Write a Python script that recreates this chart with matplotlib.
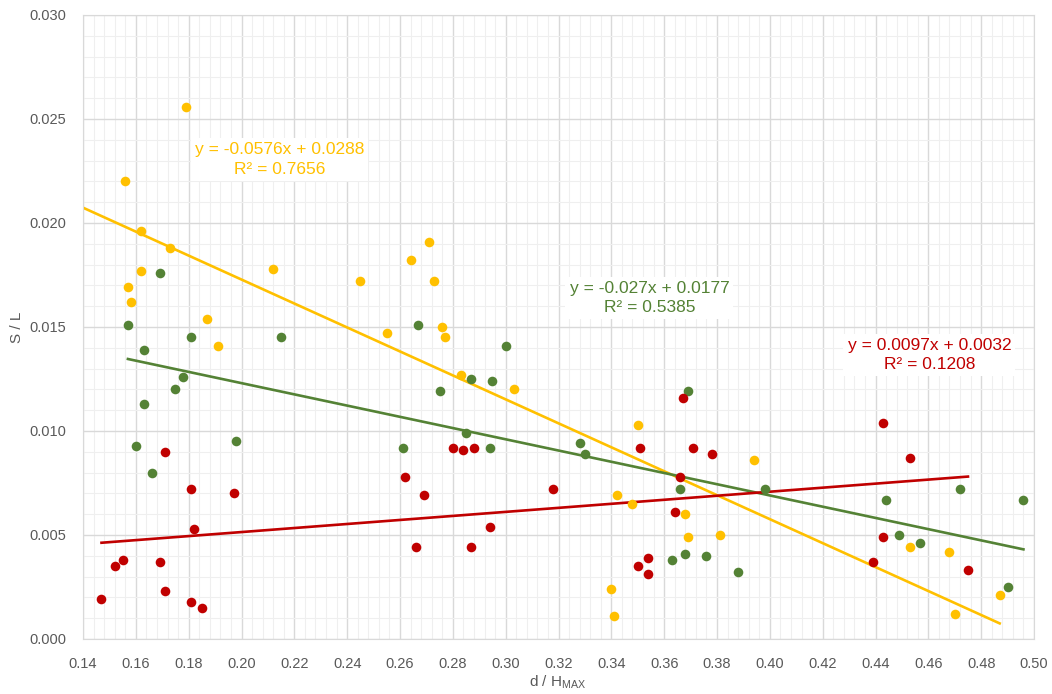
import numpy as np
import matplotlib.pyplot as plt
from matplotlib.ticker import MultipleLocator, FormatStrFormatter

plt.rcParams['font.family'] = ['Liberation Sans', 'DejaVu Sans']
plt.rcParams['mathtext.fontset'] = 'custom'
plt.rcParams['mathtext.rm'] = 'Liberation Sans'

# yellow series
x_yel = [0.179, 0.156, 0.162, 0.173, 0.162, 0.157, 0.158, 0.187, 0.191, 0.212,
         0.245, 0.255, 0.264, 0.271, 0.273, 0.276, 0.277, 0.283, 0.303, 0.350,
         0.342, 0.348, 0.340, 0.341, 0.368, 0.369, 0.381, 0.394, 0.453, 0.468,
         0.470, 0.487]
y_yel = [0.0256, 0.0220, 0.0196, 0.0188, 0.0177, 0.0169, 0.0162, 0.0154, 0.0141, 0.0178,
         0.0172, 0.0147, 0.0182, 0.0191, 0.0172, 0.0150, 0.0145, 0.0127, 0.0120, 0.0103,
         0.0069, 0.0065, 0.0024, 0.0011, 0.0060, 0.0049, 0.0050, 0.0086, 0.0044, 0.0042,
         0.0012, 0.0021]

# green series
x_grn = [0.169, 0.157, 0.181, 0.163, 0.178, 0.175, 0.163, 0.160, 0.198, 0.166,
         0.215, 0.267, 0.300, 0.275, 0.287, 0.295, 0.285, 0.261, 0.294, 0.369,
         0.328, 0.330, 0.366, 0.398, 0.363, 0.368, 0.376, 0.388, 0.444, 0.472,
         0.496, 0.449, 0.457, 0.490]
y_grn = [0.0176, 0.0151, 0.0145, 0.0139, 0.0126, 0.0120, 0.0113, 0.0093, 0.0095, 0.0080,
         0.0145, 0.0151, 0.0141, 0.0119, 0.0125, 0.0124, 0.0099, 0.0092, 0.0092, 0.0119,
         0.0094, 0.0089, 0.0072, 0.0072, 0.0038, 0.0041, 0.0040, 0.0032, 0.0067, 0.0072,
         0.0067, 0.0050, 0.0046, 0.0025]

# red series
x_red = [0.171, 0.181, 0.197, 0.182, 0.155, 0.152, 0.169, 0.147, 0.171, 0.181,
         0.185, 0.280, 0.284, 0.288, 0.262, 0.269, 0.294, 0.266, 0.287, 0.367,
         0.351, 0.371, 0.378, 0.318, 0.366, 0.364, 0.350, 0.354, 0.354, 0.443,
         0.453, 0.443, 0.439, 0.475]
y_red = [0.0090, 0.0072, 0.0070, 0.0053, 0.0038, 0.0035, 0.0037, 0.0019, 0.0023, 0.0018,
         0.0015, 0.0092, 0.0091, 0.0092, 0.0078, 0.0069, 0.0054, 0.0044, 0.0044, 0.0116,
         0.0092, 0.0092, 0.0089, 0.0072, 0.0078, 0.0061, 0.0035, 0.0039, 0.0031, 0.0104,
         0.0087, 0.0049, 0.0037, 0.0033]

# trend lines: slope, intercept, r2
fit_yel = (-0.0576, 0.0288, 0.7656)
fit_grn = (-0.027, 0.0177, 0.5385)
fit_red = (0.0097, 0.0032, 0.1208)

c_yel = '#FFC000'
c_grn = '#548235'
c_red = '#C00000'

fig = plt.figure(figsize=(10.52, 6.94), dpi=100)
ax = fig.add_axes([0.0789, 0.0793, 0.9040, 0.8991])

ax.set_xlim(0.14, 0.50)
ax.set_ylim(0.0, 0.030)
ax.xaxis.set_major_locator(MultipleLocator(0.02))
ax.xaxis.set_minor_locator(MultipleLocator(0.004))
ax.yaxis.set_major_locator(MultipleLocator(0.005))
ax.yaxis.set_minor_locator(MultipleLocator(0.001))
ax.xaxis.set_major_formatter(FormatStrFormatter('%.2f'))
ax.yaxis.set_major_formatter(FormatStrFormatter('%.3f'))
ax.grid(which='major', color='#D9D9D9', lw=1.0)
ax.grid(which='minor', color='#EFEFEF', lw=0.8)
ax.set_axisbelow(True)
ax.tick_params(which='both', length=0, labelsize=10.5, colors='#595959')
ax.tick_params(axis='x', pad=13)
ax.tick_params(axis='y', pad=12)
for s in ax.spines.values():
    s.set_color('#D9D9D9')

def trend(fit, x0, x1, col):
    xs = np.array([x0, x1])
    ax.plot(xs, fit[0] * xs + fit[1], color=col, lw=1.9, zorder=2, clip_on=True)

trend(fit_yel, 0.14, max(x_yel), c_yel)
trend(fit_grn, min(x_grn), max(x_grn), c_grn)
trend(fit_red, min(x_red), max(x_red), c_red)

ax.scatter(x_yel, y_yel, s=48, color=c_yel, lw=0, zorder=3)
ax.scatter(x_grn, y_grn, s=48, color=c_grn, lw=0, zorder=3)
ax.scatter(x_red, y_red, s=48, color=c_red, lw=0, zorder=3)

def eq_label(fit, x, y, col):
    sign = '+' if fit[1] >= 0 else '-'
    txt = 'y = %gx %s %g\nR² = %.4f' % (fit[0], sign, abs(fit[1]), fit[2])
    ax.text(x, y, txt, color=col, fontsize=12.5, ha='center', va='center',
            linespacing=1.35, zorder=4,
            bbox=dict(facecolor='white', edgecolor='none', pad=3))

eq_label(fit_yel, 0.2144, 0.02305, c_yel)
eq_label(fit_grn, 0.3544, 0.01640, c_grn)
eq_label(fit_red, 0.4604, 0.01365, c_red)

# axis titles placed in figure pixels
fig.text(17 / 1052, 1 - 327 / 694, 'S / L', rotation=90, fontsize=11,
         color='#595959', ha='center', va='center')
fig.text(558 / 1052, 1 - 682 / 694, 'd / H$_{\\mathrm{MAX}}$', fontsize=11,
         color='#595959', ha='center', va='center')

fig.savefig('out.png', dpi=100)
